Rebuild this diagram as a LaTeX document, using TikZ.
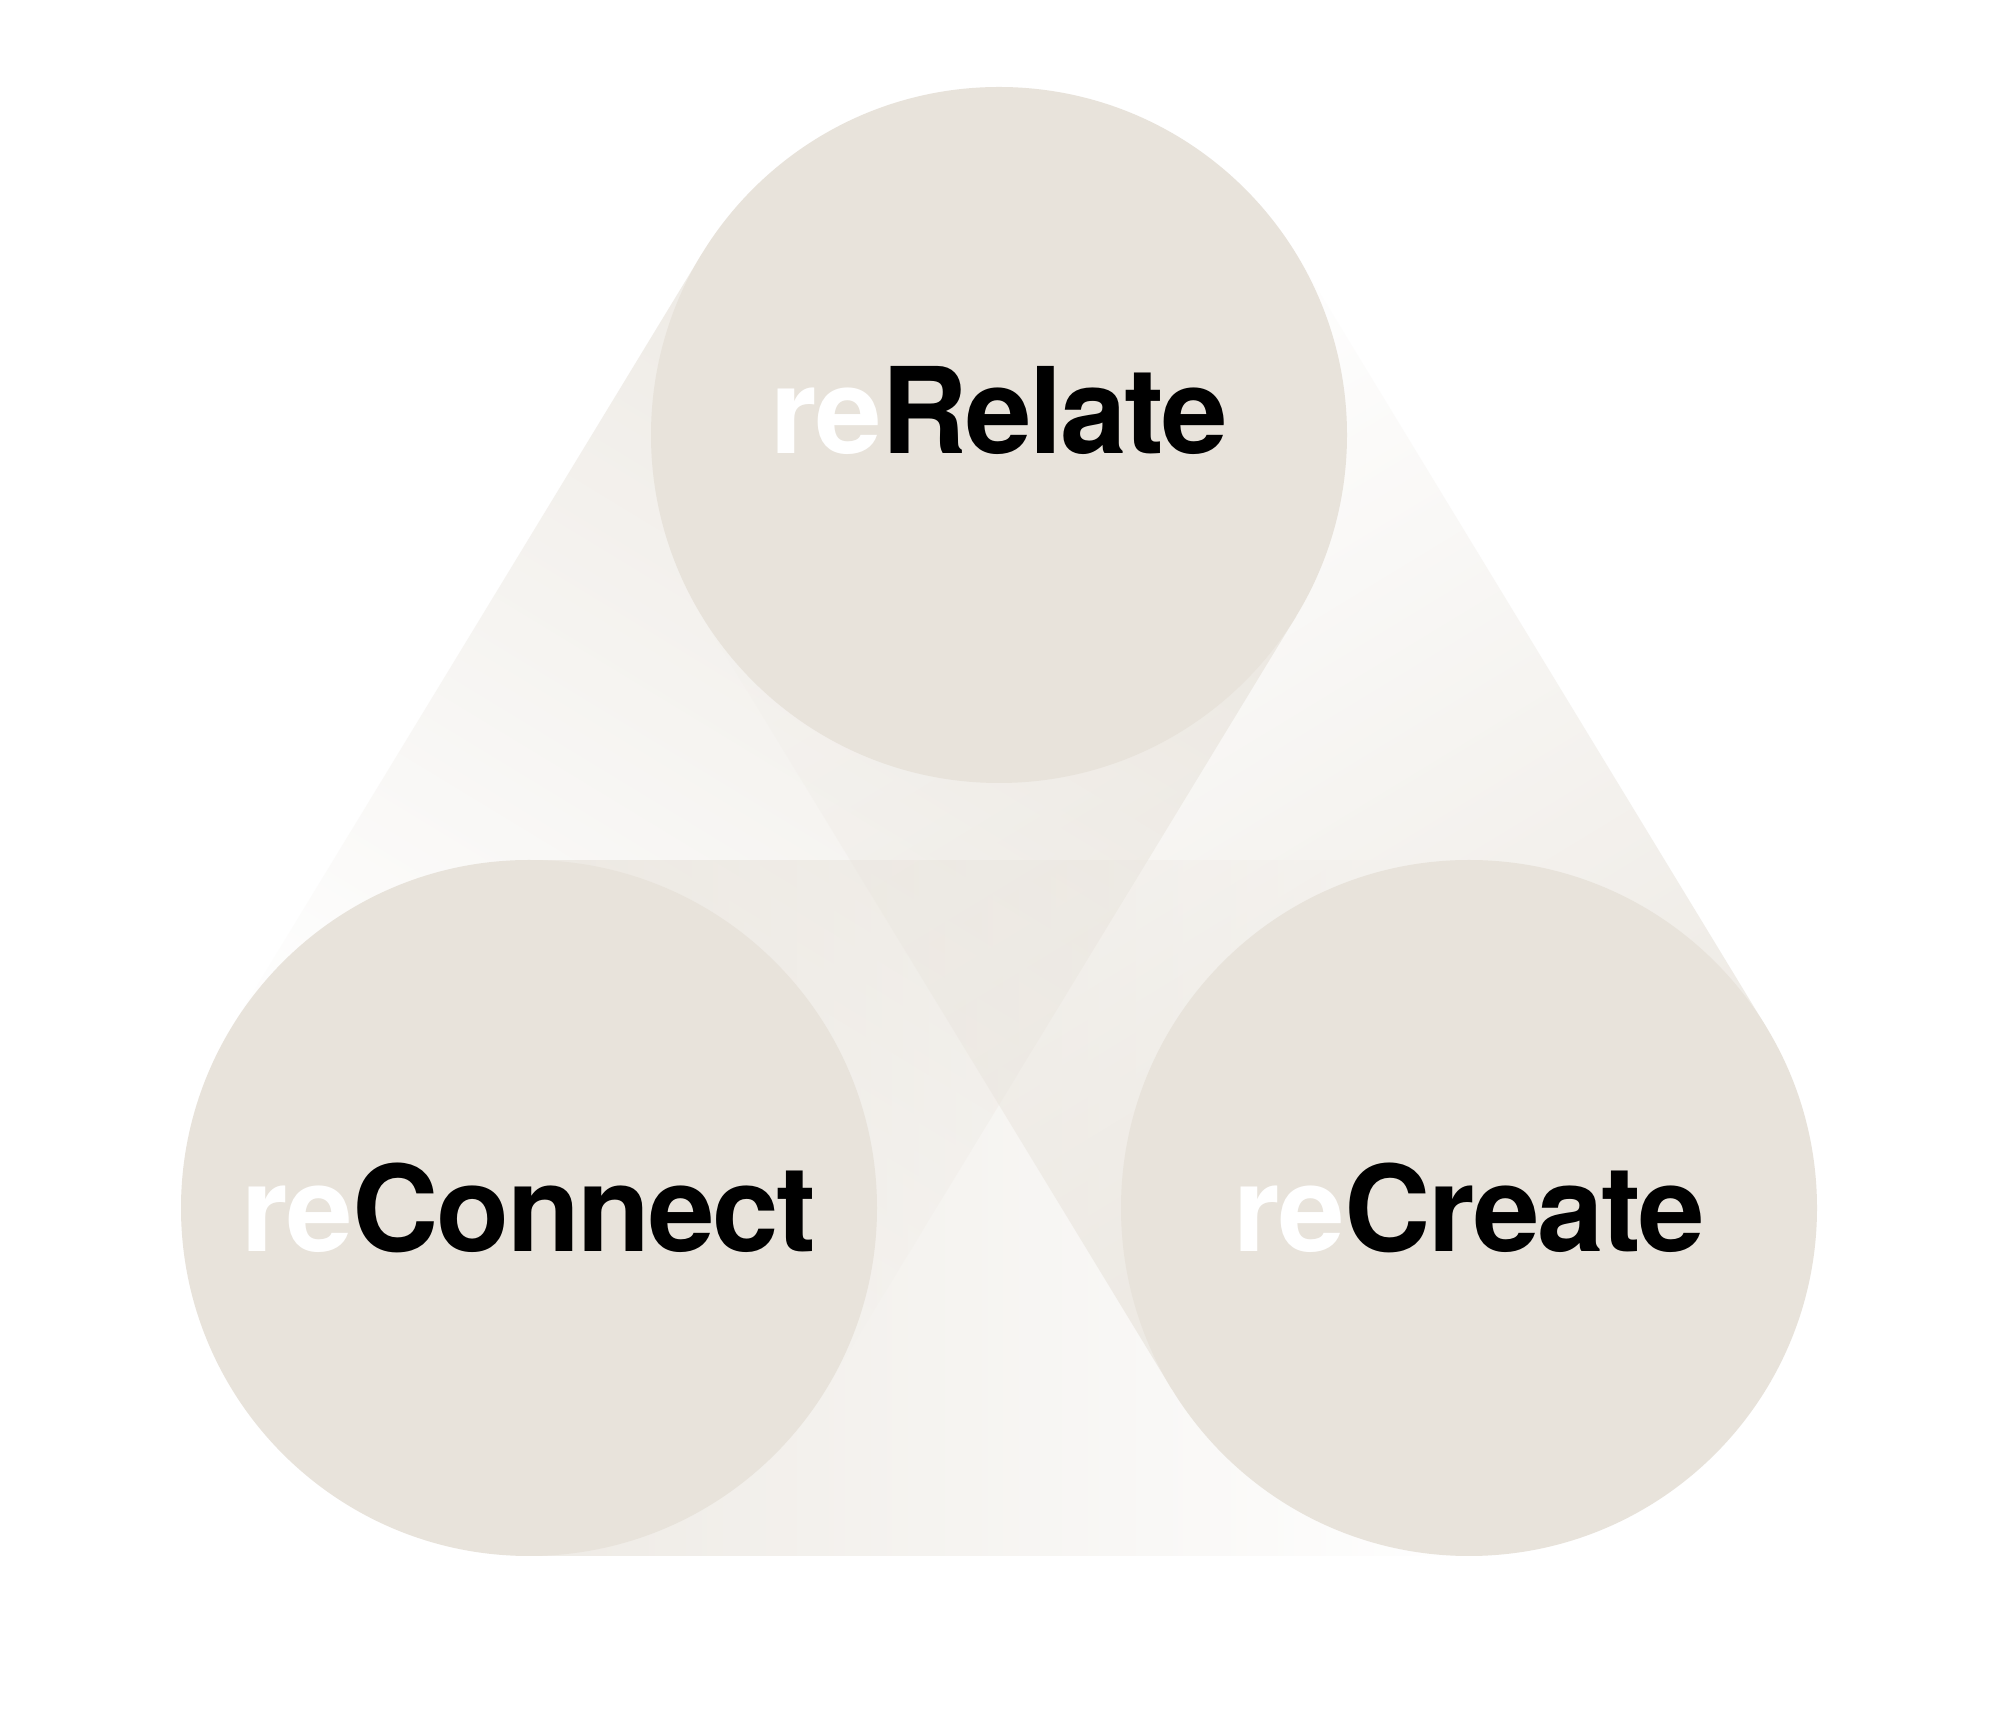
\documentclass[tikz,border=0pt]{standalone}
\usepackage{fontspec}
\newfontfamily\wordfont{TeX Gyre Heros}[LetterSpace=-2]
\usetikzlibrary{fadings}

\definecolor{discfill}{HTML}{E8E3DB}
\tikzfading[name=bandfade, left color=transparent!30, right color=transparent!100]
\tikzset{
  disc/.style={circle, fill=discfill, minimum size=6.96cm, inner sep=0pt},
  band/.style={fill=discfill, path fading=bandfade},
  word/.style={font=\wordfont\bfseries\fontsize{34}{40}\selectfont, inner sep=0pt}
}
\newcommand{\whitere}{\textcolor{white}{re}}

\begin{document}
\begin{tikzpicture}
  \useasboundingbox[fill=white] (0,0) rectangle (20,17.2);

  % circle centres
  \coordinate (T) at (9.99,12.85);
  \coordinate (L) at (5.29,5.12);
  \coordinate (R) at (14.69,5.12);

  % fading bands between the circles
  \begin{scope}[transform canvas={shift={(T)}, rotate=238.7}]
    \fill[band] (0,-3.48) rectangle (9.05,3.48);
  \end{scope}
  \begin{scope}[transform canvas={shift={(L)}}]
    \fill[band] (0,-3.48) rectangle (9.40,3.48);
  \end{scope}
  \begin{scope}[transform canvas={shift={(R)}, rotate=121.3}]
    \fill[band] (0,-3.48) rectangle (9.05,3.48);
  \end{scope}

  % the three circles
  \node[disc] (relate) at (T) {};
  \node[disc] (connect) at (L) {};
  \node[disc] (create) at (R) {};

  % labels
  \node[word] (relate-txt) at ([yshift=2.5mm]relate.center) {\whitere Relate};
  \node[word] (connect-txt) at (connect.center) {\whitere Connect};
  \node[word] (create-txt) at (create.center) {\whitere Create};
\end{tikzpicture}
\end{document}
